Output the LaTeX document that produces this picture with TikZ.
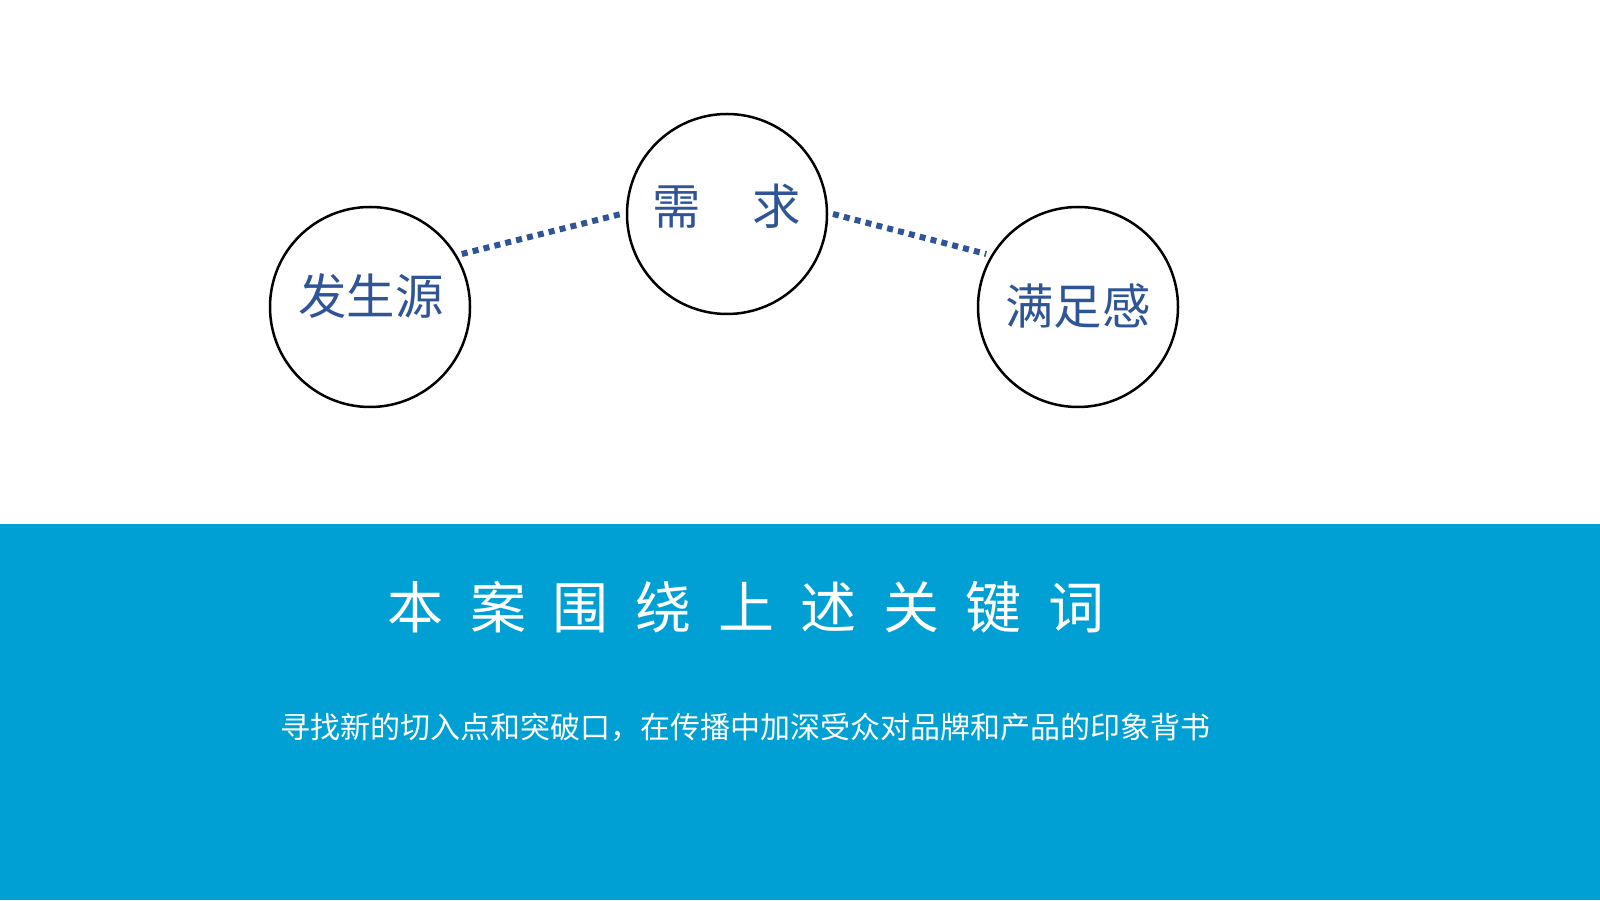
\documentclass[tikz,border=0pt]{standalone}
\usepackage{fontspec}
\newfontfamily\cjk{Noto Sans CJK SC}
\definecolor{keyblue}{HTML}{2F5597}
\definecolor{bandblue}{HTML}{00A0D4}
\tikzset{
	ring/.style={circle, draw=black, line width=1.25pt, minimum size=100pt, inner sep=0pt, outer sep=3pt},
	ringtext/.style={text=keyblue, inner sep=0pt, font=\cjk\fontsize{24.2}{29}\selectfont},
	dotline/.style={draw=keyblue, line width=3pt, dash pattern=on 3pt off 2.6pt},
	bandtext/.style={text=white, inner sep=0pt},
}
\newcommand\tgap{\hspace{13.3pt}}

\begin{document}
\begin{tikzpicture}[x=0.5pt,y=0.5pt]
	\useasboundingbox (0,0) rectangle (1600,900);
	\fill[white] (0,0) rectangle (1600,900);
	\fill[bandblue] (0,0) rectangle (1600,376);
	
	\node[ring] (src) at (370,593) {};
	\node[ring] (need) at (727,686) {};
	\node[ring] (satis) at (1078,593) {};
	
	\node[ringtext] (srctext) at (371,604) {发生源};
	\node[ringtext] (needtext) at (727,694) {需\hspace{26pt}求};
	\node[ringtext] (satistext) at (1078,594) {满足感};
	
	\draw[dotline] (src.30) -- (need.west);
	\draw[dotline] (need.east) -- (satis.150);
	
	\node[bandtext, font=\cjk\fontsize{28}{34}\selectfont] (title) at (746,293)
		{本\tgap 案\tgap 围\tgap 绕\tgap 上\tgap 述\tgap 关\tgap 键\tgap 词};
	\node[bandtext, font=\cjk\fontsize{15}{18}\selectfont] (subtitle) at (745,173)
		{寻找新的切入点和突破口，在传播中加深受众对品牌和产品的印象背书};
\end{tikzpicture}
\end{document}
